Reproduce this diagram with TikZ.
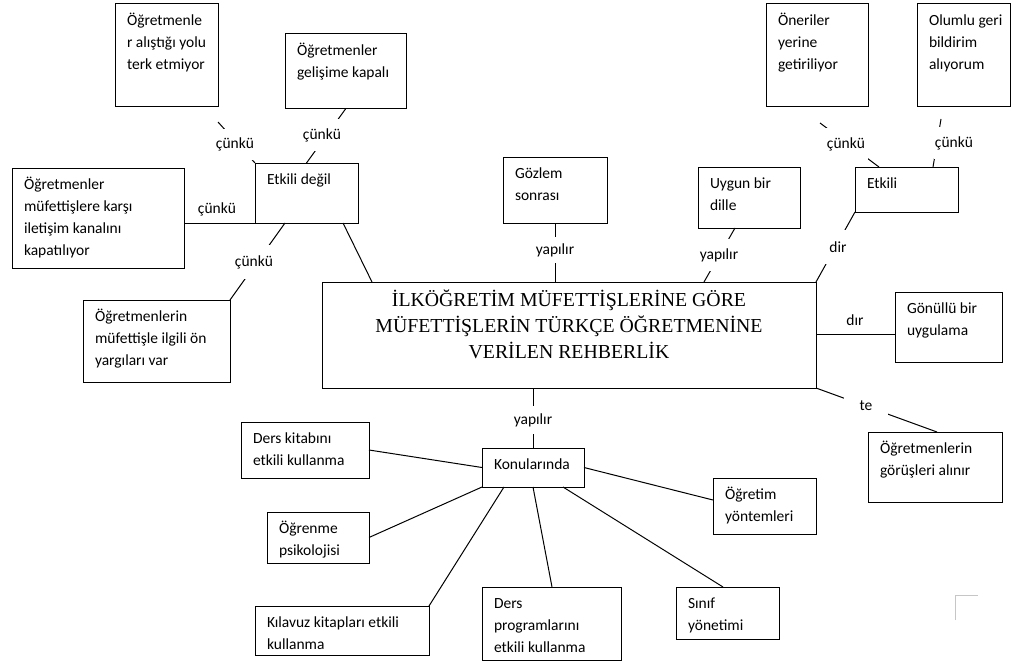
\documentclass[tikz,border=0pt]{standalone}
\usepackage{fontspec}
\setmainfont{Carlito}
\newfontfamily\titlefont{Liberation Serif}
\usetikzlibrary{calc}

\tikzset{
  boxframe/.style={draw, line width=1pt, inner sep=0pt, outer sep=0pt, anchor=north west},
  boxtext/.style={anchor=base west, inner sep=0pt, font=\fontsize{15.5}{22}\selectfont},
  lab/.style={inner sep=0pt, fill=white, font=\fontsize{15.5}{22}\selectfont},
}

% framed box with top-left aligned text: name, x1, y1, x2, y2, text
\newcommand\tbox[6]{%
  \node[boxframe, minimum width={(#4-#2)*1pt}, minimum height={(#5-#3)*1pt}] (#1) at (#2,#3) {};
  \node[boxtext] (#1-t) at ($(#1.north west)+(11.5,21.5)$) {\begin{tabular}[t]{@{}l@{}}#6\end{tabular}};
}

\begin{document}
\begin{tikzpicture}[x=1pt, y=-1pt, line width=1pt]
\useasboundingbox (0,0) rectangle (1013,661);

% central box
\node[boxframe, minimum width=494, minimum height=106] (main) at (322,282) {};
\node[anchor=base, inner sep=0pt, font=\titlefont\fontsize{19.8}{26}\selectfont] (main-t)
  at ($(main.north)+(0,24.5)$)
  {\begin{tabular}[t]{@{}c@{}}İLKÖĞRETİM MÜFETTİŞLERİNE GÖRE\\MÜFETTİŞLERİN TÜRKÇE ÖĞRETMENİNE\\VERİLEN REHBERLİK\end{tabular}};

% left cluster
\tbox{A}{115}{4}{218}{107}{Öğretmenle\\r alıştığı yolu\\terk etmiyor}
\tbox{B}{285}{34}{406}{109}{Öğretmenler\\gelişime kapalı}
\tbox{ed}{255}{163}{358}{223}{Etkili değil}
\tbox{C}{12}{168}{184}{268}{Öğretmenler\\müfettişlere karşı\\iletişim kanalını\\kapatılıyor}
\tbox{D}{83}{300}{230}{382}{Öğretmenlerin\\müfettişle ilgili ön\\yargıları var}

% top and right
\tbox{goz}{503}{157}{607}{223}{Gözlem\\sonrası}
\tbox{uy}{698}{167}{800}{228}{Uygun bir\\dille}
\tbox{etk}{855}{167}{958}{212}{Etkili}
\tbox{one}{766}{4}{868}{107}{Öneriler\\yerine\\getiriliyor}
\tbox{olu}{917}{4}{1010}{107}{Olumlu geri\\bildirim\\alıyorum}
\tbox{gon}{895}{292}{1002}{362}{Gönüllü bir\\uygulama}
\tbox{gor}{868}{432}{1002}{502}{Öğretmenlerin\\görüşleri alınır}

% bottom cluster
\tbox{kon}{482}{448}{584}{487}{Konularında}
\tbox{dk}{241}{422}{369}{478}{Ders kitabını\\etkili kullanma}
\tbox{og}{267}{512}{369}{563}{Öğrenme\\psikolojisi}
\tbox{kil}{255}{606}{429}{655}{Kılavuz kitapları etkili\\kullanma}
\tbox{dp}{482}{587}{621}{660}{Ders\\programlarını\\etkili kullanma}
\tbox{sin}{676}{587}{779}{639}{Sınıf\\yönetimi}
\tbox{ogr}{713}{478}{816}{534}{Öğretim\\yöntemleri}

% connectors of the left cluster
\coordinate (a-end) at (218,122);
\draw (a-end) -- (ed.north west);
\draw (B.south) -- (ed.north);
\draw (ed.south west -| C.east) -- (ed.south west);
\draw ($(ed.south west)+(30,0)$) -- (D.north east);
\draw ($(ed.south west)+(88,0)$) -- ($(main.north west)+(50,0)$);

% connectors above and right of the central box
\draw (goz.south) -- (goz.south |- main.north);
\draw ($(uy.south west)+(37,0)$) -- ($(main.north west)+(382,0)$);
\draw (etk.south west) -- (main.north east);
\coordinate (one-end) at (820,123);
\draw (one-end) -- ($(etk.north west)+(24,0)$);
\coordinate (olu-end) at (941,119);
\draw (olu-end) -- ($(etk.north west)+(78,0)$);
\coordinate (gon-in) at ($(gon.west)+(0,7)$);
\draw (main.east |- gon-in) -- (gon-in);
\draw (main.south east) -- ($(gor.north west)+(69,0)$);

% connectors of the bottom cluster
\draw (kon.north |- main.south) -- (kon.north);
\draw (kon.west) -- (dk.east);
\draw (kon.south west) -- (og.east);
\draw ($(kon.south west)+(22,0)$) -- (kil.north east);
\draw (kon.south) -- ($(dp.north west)+(70,0)$);
\draw ($(kon.south west)+(81,0)$) -- ($(sin.north west)+(47,0)$);
\draw (kon.east) -- ($(ogr.west)+(0,-6)$);

% connector labels
\node[lab, minimum width=38, minimum height=31] (l-a) at (235,144) {çünkü};
\node[lab, minimum width=38, minimum height=32] (l-b) at (322,135) {çünkü};
\node[lab] (l-c) at (217,209) {çünkü};
\node[lab, minimum width=38, minimum height=34] (l-d) at (254,262) {çünkü};
\node[lab, minimum width=46, minimum height=26] (l-goz) at (555,250) {yapılır};
\node[lab, minimum width=46, minimum height=32] (l-uy) at (719,255) {yapılır};
\node[lab, minimum width=30, minimum height=34] (l-etk) at (838,247) {dir};
\node[lab, minimum width=44, minimum height=32] (l-one) at (846,144) {çünkü};
\node[lab, minimum width=40, minimum height=32] (l-olu) at (954,143) {çünkü};
\node[lab] (l-gon) at (855,320) {dır};
\node[lab, minimum width=44, minimum height=18] (l-gor) at (866,406) {te};
\node[lab, minimum width=46, minimum height=28] (l-kon) at (533,420) {yapılır};

% faint corner mark
\draw[gray!45, line width=0.8pt] (955,620) -- (955,595) -- (978,595);
\end{tikzpicture}
\end{document}
